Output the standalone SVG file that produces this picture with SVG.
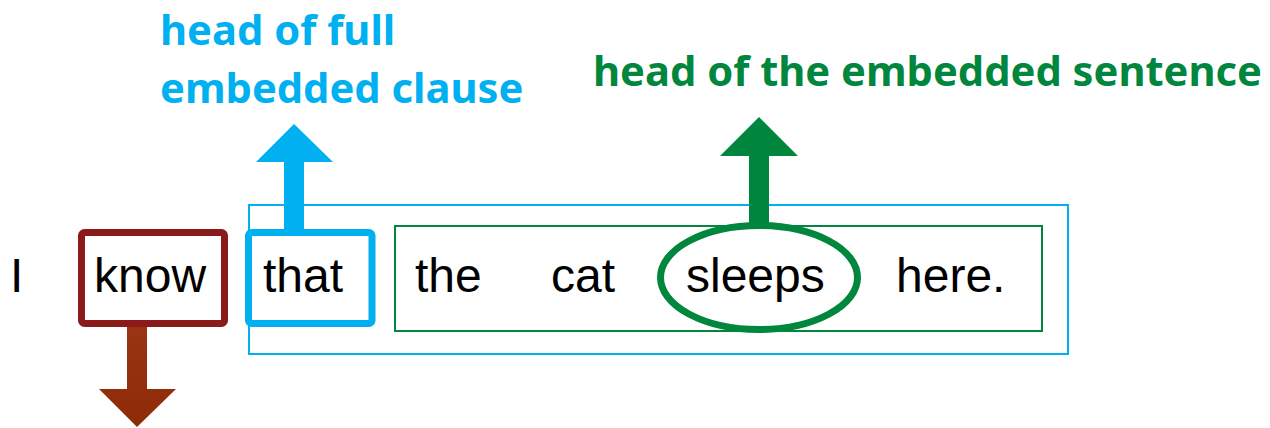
<svg xmlns="http://www.w3.org/2000/svg" width="1270" height="428" viewBox="0 0 1270 428">
  <defs>
    <style>
      .word { font-family: "Liberation Sans", Arial, sans-serif; font-size: 48px; fill: #000; }
      .lbl { font-family: "Noto Sans", "Open Sans", sans-serif; font-size: 41.7px; font-weight: bold; }
      .blue { fill: #00B0F0; }
      .green { fill: #00873D; }
    </style>
    <linearGradient id="brownGrad" x1="0" y1="0" x2="0" y2="1">
      <stop offset="0" stop-color="#9A3412"/>
      <stop offset="1" stop-color="#8E2C06"/>
    </linearGradient>
  </defs>
  <rect width="1270" height="428" fill="#fff"/>

  <g id="clause-box">
    <rect x="249" y="205" width="819" height="149" fill="none" stroke="#00B0F0" stroke-width="2"/>
  </g>
  <g id="sentence-box">
    <rect x="395" y="226" width="647" height="105" fill="none" stroke="#00873D" stroke-width="2"/>
  </g>

  <g id="connectors">
    <polygon points="284,232 284,162 256,162 294,124 333,162 304,162 304,232" fill="#00B0F0"/>
    <polygon points="749,228 749,156 720,156 759,117 798,156 769,156 769,228" fill="#00873D"/>
    <polygon points="127,323 127,389 99,389 137,427 176,389 147,389 147,323" fill="url(#brownGrad)"/>
  </g>

  <g id="word-I">
    <text class="word" x="10" y="292">I</text>
  </g>
  <g id="node-know">
    <rect x="81.5" y="232.5" width="143" height="91" rx="3" fill="none" stroke="#8B1A1A" stroke-width="7"/>
    <text class="word" x="94" y="292">know</text>
  </g>
  <g id="node-that">
    <rect x="248.5" y="232.5" width="123.5" height="91" rx="3" fill="none" stroke="#00B0F0" stroke-width="7"/>
    <text class="word" x="263" y="292">that</text>
  </g>
  <g id="word-the">
    <text class="word" x="415" y="292">the</text>
  </g>
  <g id="word-cat">
    <text class="word" x="551" y="292">cat</text>
  </g>
  <g id="node-sleeps">
    <ellipse cx="759" cy="277.5" rx="98.5" ry="52" fill="none" stroke="#00873D" stroke-width="7"/>
    <text class="word" x="686" y="292">sleeps</text>
  </g>
  <g id="word-here">
    <text class="word" x="896" y="292">here.</text>
  </g>

  <g id="label-clause">
    <text class="lbl blue" x="160" y="45">head of full</text>
    <text class="lbl blue" x="160" y="103">embedded clause</text>
  </g>
  <g id="label-sentence">
    <text class="lbl green" x="593" y="86">head of the embedded sentence</text>
  </g>
</svg>
